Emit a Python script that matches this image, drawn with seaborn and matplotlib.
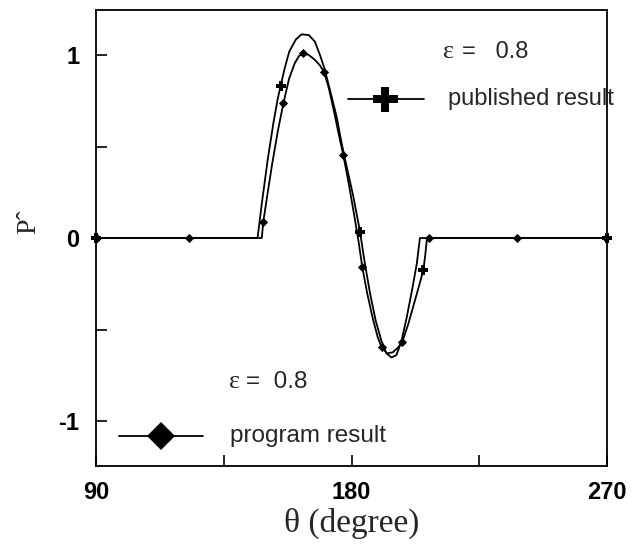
import matplotlib
matplotlib.use("Agg")
import matplotlib.pyplot as plt
import pandas as pd
import seaborn as sns

# Published result: curve vertices (theta in degrees, normalised pressure)
pub_theta = [90, 146.9, 148.5, 150.5, 152.5, 154.0, 155.0, 156.5, 158.1, 160.4,
             162.4, 165.0, 167.1, 168.9, 170.4, 172.4, 174.8, 176.5, 178.3, 180.6,
             183.0, 184.5, 186.5, 188.5, 190.5, 192.3, 194.1, 195.8, 197.5, 199.5,
             201.5, 203.0, 204.1, 270]
pub_p = [0, 0, 0.20, 0.43, 0.63, 0.76, 0.83, 0.93, 1.02, 1.085,
         1.113, 1.109, 1.073, 1.0, 0.93, 0.81, 0.66, 0.52, 0.39, 0.23,
         0.035, -0.12, -0.30, -0.45, -0.56, -0.63, -0.653, -0.64, -0.57, -0.43,
         -0.27, -0.14, 0, 0]

# Program result: curve vertices
prog_theta = [90, 148.4, 148.9, 150.5, 152.0, 154.0, 156.0, 158.0, 160.0, 161.5,
              163.0, 165.0, 167.0, 168.8, 170.3, 172.0, 174.0, 175.6, 177.1, 179.0,
              181.0, 182.5, 183.8, 185.5, 187.5, 189.2, 190.6, 192.5, 194.5, 196.3,
              197.9, 200.0, 202.0, 204.0, 205.3, 206.0, 206.6, 270]
prog_p = [0, 0, 0.086, 0.25, 0.40, 0.58, 0.736, 0.87, 0.955, 0.995,
          1.009, 1.0, 0.975, 0.945, 0.909, 0.82, 0.68, 0.56, 0.454, 0.30,
          0.12, -0.02, -0.16, -0.30, -0.44, -0.54, -0.597, -0.63, -0.625, -0.60,
          -0.567, -0.47, -0.36, -0.25, -0.175, -0.09, 0, 0]

# Marker points
pub_mark_theta = [90, 155.0, 183.0, 205.3, 270]
pub_mark_p = [0, 0.83, 0.035, -0.175, 0]
prog_mark_theta = [90.5, 122.7, 148.9, 156.0, 163.0, 170.3, 177.1, 183.8,
                   190.6, 197.9, 207.2, 238.4, 269.5]
prog_mark_p = [0, 0, 0.086, 0.736, 1.009, 0.909, 0.454, -0.16,
               -0.597, -0.567, 0, 0, 0]

x_ticks = [90, 135, 180, 225, 270]
x_tick_labels = ["90", "", "180", "", "270"]
y_ticks = [-1, -0.5, 0, 0.5, 1]
y_tick_labels = ["-1", "", "0", "", "1"]
eps_value = "0.8"

sns.set_theme(style="ticks")
plt.rcParams["font.family"] = ["Liberation Sans", "DejaVu Sans"]
serif = ["Liberation Serif", "DejaVu Serif"]

fig = plt.figure(figsize=(6.35, 5.48), dpi=100)
ax = fig.add_axes([0.1512, 0.1496, 0.8047, 0.8321])

pub_df = pd.DataFrame({"theta": pub_theta, "p": pub_p})
prog_df = pd.DataFrame({"theta": prog_theta, "p": prog_p})
pub_marks = pd.DataFrame({"theta": pub_mark_theta, "p": pub_mark_p})
prog_marks = pd.DataFrame({"theta": prog_mark_theta, "p": prog_mark_p})

sns.lineplot(data=pub_df, x="theta", y="p", sort=False, estimator=None,
             color="black", linewidth=1.3, ax=ax)
sns.lineplot(data=prog_df, x="theta", y="p", sort=False, estimator=None,
             color="black", linewidth=1.3, ax=ax)
sns.scatterplot(data=prog_marks, x="theta", y="p", marker="D", s=22,
                color="black", linewidth=0, ax=ax, zorder=4, clip_on=False)
sns.scatterplot(data=pub_marks, x="theta", y="p", marker="P", s=48,
                color="black", linewidth=0, ax=ax, zorder=4, clip_on=False)

ax.set_xlim(90, 270)
ax.set_ylim(-1.246, 1.246)
ax.set_xticks(x_ticks)
ax.set_xticklabels(x_tick_labels)
ax.set_yticks(y_ticks)
ax.set_yticklabels(y_tick_labels)
ax.tick_params(direction="in", length=8, width=1.2, top=False, right=False,
               labelsize=17, colors="black")
ax.tick_params(axis="x", pad=11)
ax.tick_params(axis="y", pad=12)
for lbl in ax.get_xticklabels() + ax.get_yticklabels():
    lbl.set_fontweight("bold")
for sp in ax.spines.values():
    sp.set_visible(True)
    sp.set_linewidth(1.3)
    sp.set_color("black")

ax.set_xlabel("")
ax.set_ylabel("")
ax.text(0.5, -0.125, "θ (degree)", transform=ax.transAxes, ha="center",
        va="center", fontsize=24, family=serif)
ax.text(-0.132, 0.535, "Pˆ", transform=ax.transAxes, ha="center", va="center",
        rotation=90, fontsize=20, family=serif)

# Legend entry: published result
ax.plot([0.494, 0.642], [0.804, 0.804], transform=ax.transAxes, color="black",
        linewidth=1.3)
ax.plot([0.566], [0.804], transform=ax.transAxes, marker="P", markersize=18,
        color="black", markeredgewidth=0)
ax.text(0.689, 0.804, "published result", transform=ax.transAxes,
        ha="left", va="center", fontsize=17)
ax.text(0.679, 0.9085, "ε", transform=ax.transAxes, ha="left", va="center",
        fontsize=19, family=serif)
ax.text(0.716, 0.9085, "=   " + eps_value, transform=ax.transAxes, ha="left",
        va="center", fontsize=17)

# Legend entry: program result
ax.plot([0.045, 0.209], [0.0658, 0.0658], transform=ax.transAxes,
        color="black", linewidth=1.3)
ax.plot([0.1266], [0.0658], transform=ax.transAxes, marker="D", markersize=14,
        color="black", markeredgewidth=0)
ax.text(0.262, 0.0658, "program result", transform=ax.transAxes,
        ha="left", va="center", fontsize=17.5)
ax.text(0.260, 0.185, "ε", transform=ax.transAxes, ha="left", va="center",
        fontsize=19, family=serif)
ax.text(0.294, 0.185, "=  " + eps_value, transform=ax.transAxes, ha="left",
        va="center", fontsize=17.5)

fig.savefig("out.png", dpi=100)
